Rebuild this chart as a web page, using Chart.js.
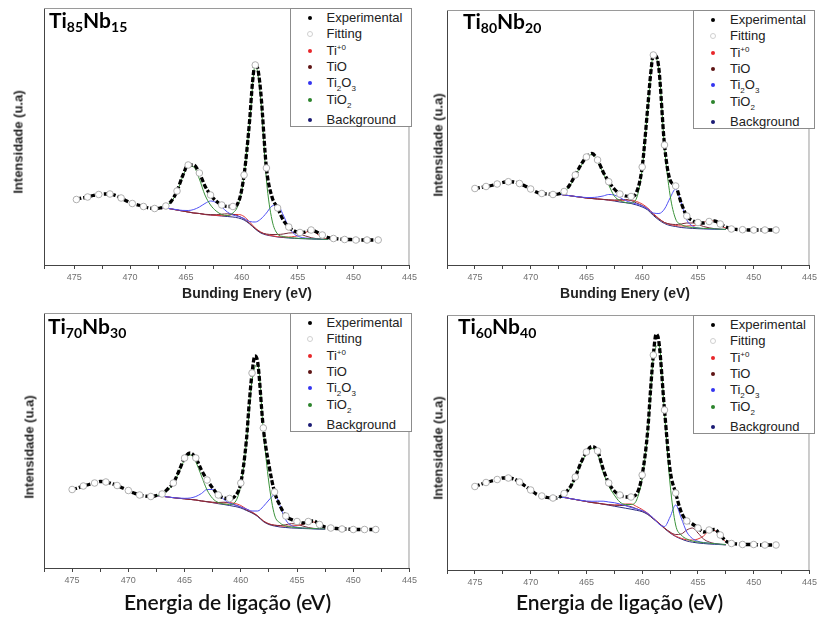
<!DOCTYPE html>
<html lang="pt">
<head>
<meta charset="UTF-8">
<title>XPS Ti 2p - ligas TiNb</title>
<script src="https://cdn.jsdelivr.net/npm/chart.js"></script>
<style>
  body { margin: 0; background: #fff; }
  #fig { position: relative; width: 820px; height: 617px; overflow: hidden; font-family: "Liberation Sans", Arial, sans-serif; }
  #fig canvas { position: absolute; }
  .legend { position: absolute; width: 120px; height: 117px; border: 1px solid #8c8c8c; background: #fff; color: #222; font-size: 13px; }
  .legend .row { position: absolute; left: 0; height: 14px; line-height: 14px; white-space: nowrap; }
  .legend .dot { position: absolute; left: 17px; top: 5px; width: 4px; height: 4px; border-radius: 50%; }
  .legend .txt { position: absolute; left: 36px; top: 0; }
  .legend sub, .legend sup { font-size: 8px; line-height: 0; }
  .sample { position: absolute; font: bold 21px Lato, sans-serif; line-height: 21px; white-space: nowrap; color: #000; }
  .sample sub { font-size: 14px; vertical-align: -4px; line-height: 0; }
  .xt, .yt { position: absolute; white-space: nowrap; color: #222; transform: translate(-50%, -50%); }
  .xt-top { font: bold 14px "Liberation Sans", Arial, sans-serif; }
  .xt-bottom { font: 600 21px Lato, sans-serif; line-height: 24px; color: #111; }
  .yt { font: bold 13px "Liberation Sans", Arial, sans-serif; transform: translate(-50%, -50%) rotate(-90deg); }
</style>
</head>
<body>
<div id="fig"></div>
<script>
// binding energies (eV) - Ti80Nb20, Ti70Nb30, Ti60Nb40
const expEnergy = [475, 474.5, 474, 473.5, 473, 472.5, 472, 471.5, 471, 470.5, 470, 469.5, 469, 468.5, 468, 467.5, 467, 466.5, 466, 465.5,
  465, 464.5, 464, 463.5, 463, 462.5, 462, 461.5, 461, 460.5, 460, 459.5, 459.25, 459, 458.75, 458.5, 458, 457.5, 457, 456.5, 456, 455.5,
  455, 454.5, 454, 453.5, 453, 452.5, 452, 451.5, 451, 450.5, 450, 449.5, 449, 448.5, 448];
const fitEnergy = [475, 474, 473, 472, 471, 470, 469, 468, 467, 466, 465, 464, 463, 462, 461, 460, 459, 458, 457, 456,
  455, 454, 453, 452, 451, 450, 449, 448];
const compEnergy = [467.5, 467, 466.5, 466, 465.5, 465, 464.5, 464, 463.5, 463, 462.5, 462, 461.5, 461, 460.5, 460,
  459.5, 459, 458.5, 458, 457.5, 457, 456.5, 456, 455.5, 455, 454.5, 454, 453.5, 453, 452.5];

// binding energies (eV) - Ti85Nb15 (recorded 0.2 eV lower)
const expEnergy85 = [474.8, 474.3, 473.8, 473.3, 472.8, 472.3, 471.8, 471.3, 470.8, 470.3, 469.8, 469.3, 468.8, 468.3, 467.8, 467.3, 466.8, 466.3, 465.8, 465.3,
  464.8, 464.3, 463.8, 463.3, 462.8, 462.3, 461.8, 461.3, 460.8, 460.3, 459.8, 459.3, 459.05, 458.8, 458.55, 458.3, 457.8, 457.3, 456.8, 456.3, 455.8, 455.3,
  454.8, 454.3, 453.8, 453.3, 452.8, 452.3, 451.8, 451.3, 450.8, 450.3, 449.8, 449.3, 448.8, 448.3, 447.8];
const fitEnergy85 = [474.8, 473.8, 472.8, 471.8, 470.8, 469.8, 468.8, 467.8, 466.8, 465.8, 464.8, 463.8, 462.8, 461.8, 460.8, 459.8, 458.8, 457.8, 456.8, 455.8,
  454.8, 453.8, 452.8, 451.8, 450.8, 449.8, 448.8, 447.8];
const compEnergy85 = [467.3, 466.8, 466.3, 465.8, 465.3, 464.8, 464.3, 463.8, 463.3, 462.8, 462.3, 461.8, 461.3, 460.8, 460.3, 459.8,
  459.3, 458.8, 458.3, 457.8, 457.3, 456.8, 456.3, 455.8, 455.3, 454.8, 454.3, 453.8, 453.3, 452.8, 452.3];

// Ti85Nb15
const exp85 = [65.5, 67, 68, 69.5, 70.5, 71, 71, 69.5, 67, 64, 61.5, 60, 58.5, 57, 56.5, 57, 59, 64, 74, 89,
  100, 100, 92, 79, 70, 64, 60, 58.5, 58.5, 63, 90, 145, 182, 202, 195, 172, 97, 68, 57, 45, 38, 34,
  32.5, 33, 35, 33, 30, 27.5, 26.5, 26, 25.5, 25.5, 25, 25, 25, 25, 25];
const fit85 = [65.5, 68, 70.5, 71, 67, 61.5, 58.5, 56.5, 59, 74, 100, 92, 70, 60, 58.5, 90, 200, 97, 57, 38,
  32.5, 35, 30, 26.5, 25.5, 25, 25, 25];
const tio2_85 = [58, 59, 63.5, 73, 88, 99, 98, 86, 70, 60, 54, 50.5, 49.5, 52, 61, 89, 143, 200, 165, 85, 45, 31, 28.5, 27.5, 27, 26.6, 26.4, 26.2, 26, 25.8, 25.6];
const ti2o3_85 = [57.5, 57, 56.2, 55.3, 54.6, 54.5, 55.5, 58, 61.5, 64, 62.5, 58, 53, 50, 48.5, 46.5, 43.5, 43, 46, 52, 59, 60, 50, 38, 31, 28, 27, 26.5, 26, 25.7, 25.5];
const tio_85 = [57.5, 57, 56, 55, 54, 53, 52, 51.5, 50.7, 50.4, 50.3, 50.8, 51.2, 50.8, 49, 46, 41.5, 36.5, 32.5, 31, 30.5, 30.5, 31, 32, 32.3, 31, 29, 27.3, 26.3, 25.8, 25.5];
const ti0_85 = [57.5, 57, 56, 55, 54, 53, 52, 51.5, 50.5, 50, 49.6, 49.3, 49.5, 50.5, 50.5, 48.5, 43, 37, 33, 30.5, 29.3, 28.3, 28, 28, 28.5, 30, 32.5, 34.5, 31.5, 27.5, 26];
const bg85 = [57.5, 57, 56, 55, 54, 53, 52, 51.5, 50.5, 50, 49.5, 49, 48.5, 48, 47, 45, 41, 36, 32, 30, 29, 28, 27.5, 27, 26.7, 26.4, 26.2, 26, 25.8, 25.6, 25.5];

// Ti80Nb20
const exp80 = [76.5, 77.5, 78.5, 79.5, 81, 82.5, 83.3, 83, 81.5, 79, 76, 73, 71.5, 71, 70.5, 71, 73.5, 80, 90, 100,
  108, 111.5, 105, 93, 83.3, 76, 71, 69, 68.5, 73, 98, 158, 190, 210, 209, 196, 120, 85, 79, 62, 49, 44.5,
  42.5, 42, 43.5, 44, 41, 38, 36, 35.5, 35.3, 35, 35, 35, 35, 35, 35];
const fit80 = [76.5, 78.5, 81, 83.3, 81.5, 76, 71.5, 70.5, 73.5, 90, 108, 105, 83.3, 71, 68.5, 98, 210, 120, 79, 49,
  42.5, 43.5, 41, 36, 35.3, 35, 35, 35];
const tio2_80 = [71, 73, 79, 89, 99, 107, 110.5, 104, 92, 80, 69, 64.5, 62.5, 62, 67, 96, 156, 209, 195, 118, 70, 46, 40.5, 38.3, 37.5, 37, 36.6, 36.4, 36.1, 35.8, 35.6];
const ti2o3_80 = [71, 70, 69.3, 68.6, 68, 67.5, 67.5, 68, 69, 70.5, 70, 67.5, 64.5, 62.5, 61, 59, 56, 52, 51.5, 56, 67, 76, 62, 45, 39, 37, 36.4, 36.1, 35.9, 35.6, 35.5];
const tio_80 = [71, 70, 69.3, 68.5, 67.8, 67, 66.5, 66, 65.6, 65.2, 65, 65.3, 65.5, 64.5, 62, 59.5, 56, 50.5, 46, 42.5, 41, 40.5, 41, 42, 42, 40.5, 38.5, 37.2, 36.3, 35.8, 35.5];
const ti0_80 = [71, 70, 69.3, 68.5, 67.8, 67, 66.5, 66, 65.6, 65, 64.5, 64.3, 64.8, 65, 63.5, 61, 57, 51.5, 46.5, 42.5, 40.5, 39.5, 39, 39, 39.3, 40.3, 42.5, 45, 43.5, 39.5, 36.8];
const bg80 = [71, 70, 69.3, 68.5, 67.8, 67, 66.5, 66, 65.5, 64.8, 64, 63, 62.3, 61.5, 60, 58, 55, 49.5, 45, 41.5, 39.5, 38.5, 37.5, 37, 36.6, 36.3, 36.1, 36, 35.8, 35.6, 35.5];

// Ti70Nb30
const exp70 = [78.5, 80, 82, 83.5, 85, 86.5, 86, 84.5, 82.5, 80, 77.5, 75, 73, 72, 71.5, 72.5, 74, 79, 85, 97,
  110, 115, 110, 98, 88, 80, 73, 70, 69.5, 72, 85, 128, 165, 195, 212, 206, 140, 103, 76, 62, 52, 48.5,
  46.5, 45, 46.5, 47, 43.5, 41, 40, 39.5, 39, 39, 38.5, 38.5, 38.5, 38.5, 38.5];
const fit70 = [78.5, 82, 85, 86, 82.5, 77.5, 73, 71.5, 74, 85, 110, 110, 88, 73, 69.5, 85, 195, 140, 76, 52,
  46.5, 46.5, 43.5, 40, 39, 38.5, 38.5, 38.5];
const tio2_70 = [72.5, 73.5, 78, 84, 96, 108, 113, 106, 92, 78, 69.5, 65.5, 64, 63.5, 66, 83, 126, 188, 204, 138, 85, 53, 45, 42, 41, 40.4, 40, 39.7, 39.4, 39.2, 39];
const ti2o3_70 = [72.5, 71.8, 71, 70.4, 69.9, 69.7, 70, 71.5, 74.5, 78.5, 78.5, 74, 68.5, 65, 63, 61, 59, 57, 57, 61.5, 68, 73, 62, 48, 42.5, 40.8, 40, 39.6, 39.3, 39.1, 38.9];
const tio_70 = [72.5, 71.8, 71, 70.3, 69.7, 69.2, 68.6, 68, 67.1, 66.4, 65.8, 65.5, 65.8, 65, 63, 61, 58, 55.4, 52, 47, 44, 42.8, 42.5, 43.3, 44.3, 43.8, 42, 40.5, 39.6, 39.2, 38.9];
const ti0_70 = [72.5, 71.8, 71, 70.3, 69.7, 69.2, 68.6, 68, 67, 66.3, 65.5, 65, 65, 65.3, 64.5, 62.5, 59, 56, 52.2, 47.2, 44.2, 42.8, 42, 41.8, 42, 42.5, 43.5, 45.5, 46, 43, 40];
const bg70 = [72.5, 71.8, 71, 70.3, 69.7, 69.2, 68.6, 68, 67, 66.2, 65.3, 64.3, 63.5, 62.5, 61.5, 60, 57.5, 55, 51.5, 46.5, 43.5, 42, 41, 40.5, 40, 39.8, 39.5, 39.3, 39.1, 39, 38.8];

// Ti60Nb40
const exp60 = [83.5, 85.5, 87.5, 89, 90.5, 92, 92, 91, 88, 84, 80, 76, 74, 72.5, 72, 72.5, 76.5, 82, 93, 107,
  118, 123.5, 119, 101, 87, 79, 75, 73, 73, 76, 95, 140, 180, 215, 236, 228, 160, 100, 77, 58, 49, 46,
  42, 38, 40, 40.5, 35, 29, 26.5, 26, 25.5, 25.5, 25.5, 25, 25, 25, 25];
const fit60 = [83.5, 87.5, 90.5, 92, 88, 80, 74, 72, 76.5, 93, 118, 119, 87, 75, 73, 95, 215, 160, 77, 49,
  42, 40, 35, 26.5, 25.5, 25.5, 25, 25];
const tio2_60 = [72.5, 75.5, 81, 92, 106, 116.5, 121.5, 116, 98, 84, 75, 68, 65.5, 65.5, 70, 92, 138, 212, 225, 157, 86, 45, 35, 31, 29, 28, 27.3, 26.8, 26.3, 25.9, 25.5];
const ti2o3_60 = [72.5, 72.5, 71.5, 70.6, 69.7, 69, 68.7, 68.8, 68.8, 68, 67.3, 66, 64.3, 62.5, 61, 59.3, 56.5, 52, 46, 43.5, 53, 65, 52, 38, 31.5, 28.7, 27.5, 26.8, 26.2, 25.7, 25.3];
const tio_60 = [72.5, 72.5, 71.5, 70.5, 69.5, 68.5, 67.5, 66.8, 66, 65.3, 64.8, 64.5, 64.5, 63.3, 61.2, 59, 56, 51.3, 46.8, 42, 38, 35.5, 36, 40, 42, 37, 31, 28, 26.5, 25.6, 25.2];
const ti0_60 = [72.5, 72.5, 71.5, 70.5, 69.5, 68.5, 67.5, 66.8, 66, 65.3, 65, 65.3, 66, 66, 63.5, 60.5, 56.7, 51.8, 47, 42, 37.5, 34, 31.7, 30.2, 30, 31, 34, 39, 39.5, 33.5, 28];
const bg60 = [72.5, 72.5, 71.5, 70.5, 69.5, 68.5, 67.5, 66.8, 65.8, 64.8, 63.8, 62.8, 61.8, 60.8, 59.7, 58.3, 55.5, 51, 46.5, 41.5, 37, 33.5, 31, 29, 27.8, 27, 26.5, 26, 25.7, 25.4, 25.2];

const seriesNames = ['Experimental', 'Fitting', 'Ti<sup>+0</sup>', 'TiO', 'Ti<sub>2</sub>O<sub>3</sub>', 'TiO<sub>2</sub>', 'Background'];
const seriesColors = ['#000000', '#ffffff', '#e8262a', '#5e1414', '#3434f0', '#2c842c', '#1b1b74'];
const lineColors = { ti0: '#e23a3a', tio: '#7a2a3a', ti2o3: '#5050f5', tio2: '#3a923a', bg: '#2a2a80' };

const samples = [
  { ti: '85', nb: '15', e: expEnergy85, fe: fitEnergy85, ce: compEnergy85, exp: exp85, fit: fit85, ti0: ti0_85, tio: tio_85, ti2o3: ti2o3_85, tio2: tio2_85, bg: bg85 },
  { ti: '80', nb: '20', e: expEnergy, fe: fitEnergy, ce: compEnergy, exp: exp80, fit: fit80, ti0: ti0_80, tio: tio_80, ti2o3: ti2o3_80, tio2: tio2_80, bg: bg80 },
  { ti: '70', nb: '30', e: expEnergy, fe: fitEnergy, ce: compEnergy, exp: exp70, fit: fit70, ti0: ti0_70, tio: tio_70, ti2o3: ti2o3_70, tio2: tio2_70, bg: bg70 },
  { ti: '60', nb: '40', e: expEnergy, fe: fitEnergy, ce: compEnergy, exp: exp60, fit: fit60, ti0: ti0_60, tio: tio_60, ti2o3: ti2o3_60, tio2: tio2_60, bg: bg60 }
];

// panel geometry: canvas box [left, top, w, h], plot area [left, top, right, bottom] in page px
const panels = [
  { box: [0, 0, 420, 305], plot: [44, 8, 410.5, 265], xmax: 477.7, sample: [49, 9.4], yt: [18, 142], xt: ['Bunding Enery (eV)', 247, 292.5, 'xt-top'] },
  { box: [420, 0, 400, 305], plot: [447, 10, 814, 265], xmax: 477.5, sample: [463, 9.7], yt: [438, 145], xt: ['Bunding Enery (eV)', 625, 292.5, 'xt-top'] },
  { box: [0, 305, 420, 312], plot: [44, 313, 410.5, 568], xmax: 477.5, sample: [48, 314.7], yt: [29, 447], xt: ['Energia de ligação (eV)', 227.5, 602, 'xt-bottom'] },
  { box: [420, 305, 400, 312], plot: [447, 315, 814, 570], xmax: 477.5, sample: [458, 315.4], yt: [438, 448], xt: ['Energia de ligação (eV)', 619.5, 602, 'xt-bottom'] }
];

const legendRows = [9, 25, 42, 58, 74, 91, 111];

const pairs = (xs, ys) => xs.map((x, i) => ({ x: x, y: ys[i] }));

// light frame on top/right of the plot area
const framePlugin = {
  id: 'frame',
  afterDraw(chart) {
    const a = chart.chartArea, ctx = chart.ctx;
    ctx.save();
    ctx.strokeStyle = '#9a9a9a';
    ctx.lineWidth = 1;
    ctx.beginPath();
    ctx.moveTo(a.left, a.top + 0.5);
    ctx.lineTo(a.right - 0.5, a.top + 0.5);
    ctx.lineTo(a.right - 0.5, a.bottom);
    ctx.stroke();
    ctx.restore();
  }
};

const fig = document.getElementById('fig');

function addDiv(cls, html, left, top) {
  const d = document.createElement('div');
  d.className = cls;
  d.innerHTML = html;
  d.style.left = left + 'px';
  d.style.top = top + 'px';
  fig.appendChild(d);
  return d;
}

function compLine(label, xs, data, color, order) {
  return {
    label: label, data: pairs(xs, data), borderColor: color, borderWidth: 1,
    pointRadius: 0, cubicInterpolationMode: 'monotone', order: order
  };
}

samples.forEach((s, k) => {
  const p = panels[k];
  const [bx, by, bw, bh] = p.box;
  const [pl, pt, pr, pb] = p.plot;

  const canvas = document.createElement('canvas');
  canvas.width = bw;
  canvas.height = bh;
  canvas.style.left = bx + 'px';
  canvas.style.top = by + 'px';
  fig.appendChild(canvas);

  new Chart(canvas, {
    type: 'line',
    data: {
      datasets: [
        { label: 'Fitting', data: pairs(s.fe, s.fit), showLine: false, pointRadius: 3.3,
          pointBackgroundColor: '#ffffff', pointBorderColor: '#b0b0b0', pointBorderWidth: 1, order: 0 },
        { label: 'Experimental', data: pairs(s.e, s.exp), borderColor: '#000', borderWidth: 3.3,
          borderDash: [5, 2], pointRadius: 0, cubicInterpolationMode: 'monotone', order: 1 },
        compLine('TiO2', s.ce, s.tio2, lineColors.tio2, 2),
        compLine('Ti2O3', s.ce, s.ti2o3, lineColors.ti2o3, 3),
        compLine('TiO', s.ce, s.tio, lineColors.tio, 4),
        compLine('Ti+0', s.ce, s.ti0, lineColors.ti0, 5),
        compLine('Background', s.ce, s.bg, lineColors.bg, 6)
      ]
    },
    options: {
      responsive: false,
      animation: false,
      layout: { autoPadding: false, padding: { left: 0, top: pt - by, right: bx + bw - pr, bottom: 0 } },
      plugins: { legend: { display: false }, tooltip: { enabled: false } },
      scales: {
        x: {
          type: 'linear', reverse: true, min: 445, max: p.xmax,
          afterFit: (sc) => { sc.height = by + bh - pb; },
          ticks: {
            stepSize: 2.5, autoSkip: false, maxRotation: 0, padding: 3, color: '#707070',
            font: { size: 9, family: '"Liberation Sans", Arial, sans-serif' },
            callback: (v) => (v % 5 === 0 ? v : '')
          },
          grid: { drawOnChartArea: false, drawTicks: true, tickLength: 4, tickColor: '#444' },
          border: { color: '#444', width: 1 }
        },
        y: {
          min: 0, max: pb - pt,
          afterFit: (sc) => { sc.width = pl - bx; },
          ticks: { display: false },
          grid: { display: false },
          border: { color: '#444', width: 1 }
        }
      }
    },
    plugins: [framePlugin]
  });

  // legend box in the upper right corner of the plot
  const lg = addDiv('legend', '', pr - 121, pt);
  seriesNames.forEach((name, i) => {
    const row = document.createElement('div');
    row.className = 'row';
    row.style.top = (legendRows[i] - 7) + 'px';
    const dot = document.createElement('div');
    dot.className = 'dot';
    dot.style.background = seriesColors[i];
    if (i === 1) { dot.style.border = '1px solid #d0d0d0'; dot.style.left = '16px'; dot.style.top = '4px'; }
    const txt = document.createElement('span');
    txt.className = 'txt';
    txt.innerHTML = name;
    row.appendChild(dot);
    row.appendChild(txt);
    lg.appendChild(row);
  });

  addDiv('sample', 'Ti<sub>' + s.ti + '</sub>Nb<sub>' + s.nb + '</sub>', p.sample[0], p.sample[1]);
  addDiv('yt', 'Intensidade (u.a)', p.yt[0], p.yt[1]);
  addDiv('xt ' + p.xt[3], p.xt[0], p.xt[1], p.xt[2]);
});
</script>
</body>
</html>
